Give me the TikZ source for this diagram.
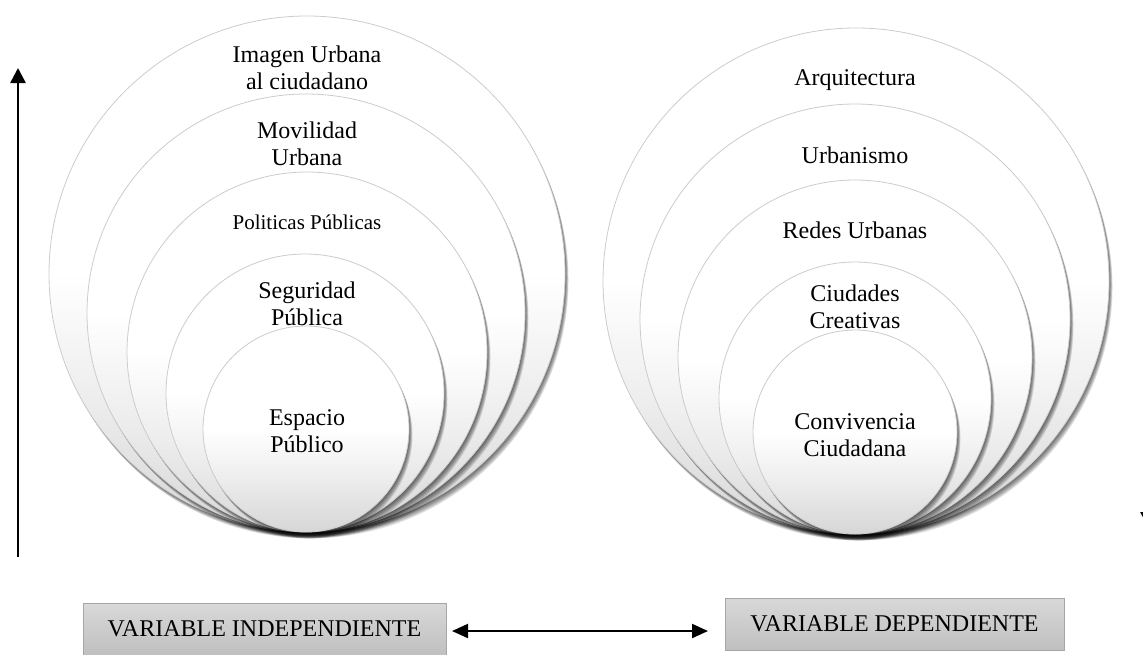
\documentclass[tikz,border=0pt]{standalone}
\usepackage{fontspec}
\setmainfont{Liberation Serif}
\usetikzlibrary{arrows.meta}

\pgfdeclareverticalshading{bubbleshade}{100bp}{color(0bp)=(black!16); color(25bp)=(black!16); color(38bp)=(black!7); color(50bp)=(white); color(100bp)=(white)}

% circle with its soft shadow: centre x, bottom y, radius
\newcommand{\bubble}[3]{%
  \foreach \k in {1,...,7}
    \fill[black, opacity=.11] (#1+.5*\k, #2-#3+.9*\k) circle (#3);
  \shade[bubble] (#1, #2-#3) circle (#3);
}

\begin{document}
\begin{tikzpicture}[x=.5pt, y=-.5pt,
    bubble/.style={shading=bubbleshade, draw=black!20, line width=.4pt},
    txt/.style={align=center, inner sep=1pt, font=\fontsize{12}{13.5}\selectfont},
    varbox/.style={draw=black!35, top color=black!15, bottom color=black!25, minimum height=26pt, inner sep=0pt, font=\fontsize{12}{14}\selectfont},
    axisarrow/.style={line width=1.3pt, -{Triangle[length=7.5pt, width=7.5pt]}},
    linkarrow/.style={line width=1pt, {Triangle[length=8pt, width=7pt]}-{Triangle[length=8pt, width=7pt]}}]

        \useasboundingbox (0,0) rectangle (1143,654);
        \clip (0,0) rectangle (1143,654);

        \bubble{307}{532}{258}
        \bubble{306}{532}{219}
        \bubble{307}{532}{180}
        \bubble{305}{532}{139}
        \bubble{306}{532}{103}

        \bubble{856}{534}{253}
        \bubble{855}{534}{215}
        \bubble{855}{534}{177}
        \bubble{855}{534}{136}
        \bubble{855}{534}{102}

        \begin{scope}[every node/.style={txt}]
          \node (imagen)      at (307,68)  {Imagen Urbana\\al ciudadano};
          \node (movilidad)   at (307,144) {Movilidad\\Urbana};
          \node[font=\fontsize{10.5}{12}\selectfont] (politicas) at (307,222) {Politicas Públicas};
          \node (seguridad)   at (307,304) {Seguridad\\Pública};
          \node (espacio)     at (307,431) {Espacio\\Público};

          \node (arquitectura) at (855,80)  {Arquitectura};
          \node (urbanismo)    at (855,155) {Urbanismo};
          \node (redes)        at (855,230) {Redes Urbanas};
          \node (ciudades)     at (855,307) {Ciudades\\Creativas};
          \node (convivencia)  at (855,435) {Convivencia\\Ciudadana};
        \end{scope}

        \node[varbox, minimum width=181.5pt] (indep) at (264.5,629) {VARIABLE INDEPENDIENTE};
        \node[varbox, minimum width=169.5pt] (dep)   at (894.5,624) {VARIABLE DEPENDIENTE};

        \coordinate (linkL) at (452,631);
        \coordinate (linkR) at (708,631);
        \draw[linkarrow] (linkL) -- (linkR);

        \coordinate (upB) at (18,557);
        \coordinate (upT) at (18,68);
        \draw[axisarrow] (upB) -- (upT);

        \coordinate (downT) at (1148,60);
        \coordinate (downB) at (1148,527);
        \draw[axisarrow] (downT) -- (downB);

      \end{tikzpicture}
\end{document}
